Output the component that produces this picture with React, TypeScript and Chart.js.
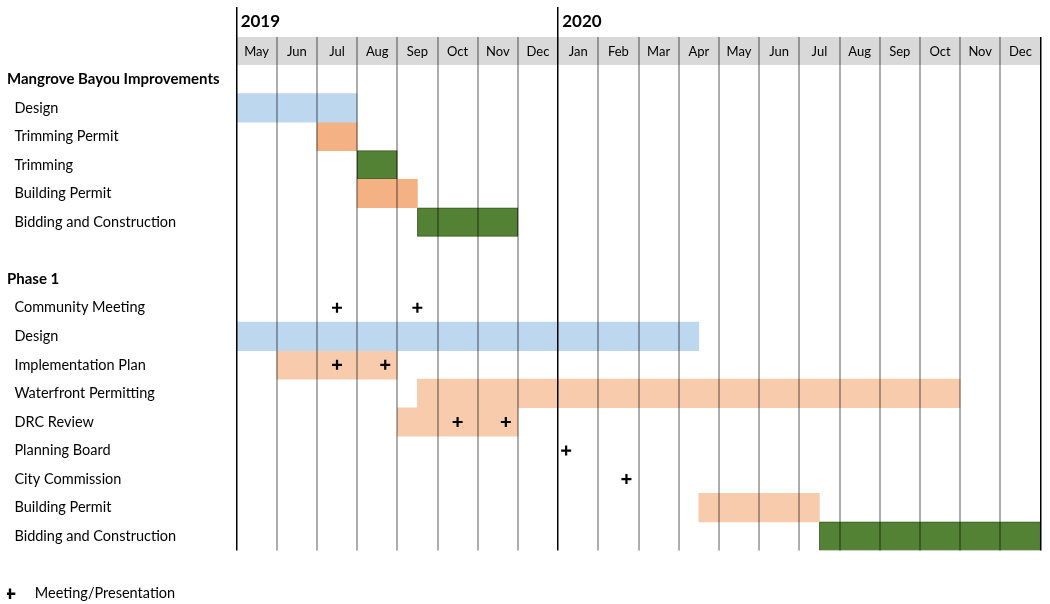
import React, { useEffect, useRef } from 'react';
import { Chart, registerables } from 'chart.js';

Chart.register(...registerables);

const FONT = "Lato, 'Open Sans', sans-serif";

const months = ['May', 'Jun', 'Jul', 'Aug', 'Sep', 'Oct', 'Nov', 'Dec', 'Jan', 'Feb', 'Mar', 'Apr', 'May', 'Jun', 'Jul', 'Aug', 'Sep', 'Oct', 'Nov', 'Dec'];
const years = ['2019', '2020'];
const yearStartMonth = [0, 8];

const taskLabels = [
  'Mangrove Bayou Improvements',
  'Design',
  'Trimming Permit',
  'Trimming',
  'Building Permit',
  'Bidding and Construction',
  '',
  'Phase 1',
  'Community Meeting',
  'Design',
  'Implementation Plan',
  'Waterfront Permitting',
  'DRC Review',
  'Planning Board',
  'City Commission',
  'Building Permit',
  'Bidding and Construction',
];
const headingRows = [0, 7];

// bars: row index, start month, end month (months counted from May 2019)
const barRows = [1, 2, 3, 4, 5, 9, 10, 11, 12, 15, 16];
const barStarts = [0, 2, 3, 3, 4.5, 0, 1, 4.5, 4, 11.5, 14.5];
const barEnds = [3, 3, 4, 4.5, 7, 11.5, 4, 18, 7, 14.5, 20];
const barKinds = ['design', 'permit', 'build', 'permit', 'build', 'design', 'permitLight', 'permitLight', 'permitLight', 'permitLight', 'build'];

// meetings / presentations
const meetingTasks = ['Community Meeting', 'Community Meeting', 'Implementation Plan', 'Implementation Plan', 'DRC Review', 'DRC Review', 'Planning Board', 'City Commission'];
const meetingMonths = [2.5, 4.5, 2.5, 3.7, 5.5, 6.7, 8.2, 9.7];
const legendText = 'Meeting/Presentation';

const barColors: Record<string, string> = {
  design: '#BDD7EE',
  permit: '#F4B183',
  permitLight: '#F8CBAD',
  build: '#548235',
};

export default function App() {
  const ref = useRef<HTMLCanvasElement>(null);

  useEffect(() => {
    if (!ref.current) return;
    const kinds = ['design', 'permit', 'permitLight', 'build'];
    const barDatasets = kinds.map((kind) => {
      const data: any[] = taskLabels.map(() => null);
      barRows.forEach((row, i) => {
        if (barKinds[i] === kind) data[row] = [barStarts[i], barEnds[i]];
      });
      return {
        type: 'bar' as const,
        label: kind,
        data,
        backgroundColor: barColors[kind],
        borderColor: kind === 'build' ? '#375623' : 'rgba(0,0,0,0)',
        borderWidth: kind === 'build' ? 1 : 0,
        borderSkipped: false,
        grouped: false,
        barPercentage: 1,
        categoryPercentage: 1,
        xAxisID: 'x',
        yAxisID: 'y',
        order: 2,
      };
    });

    const markerDataset = {
      type: 'scatter' as const,
      label: legendText,
      data: meetingTasks.map((t, i) => ({ x: meetingMonths[i], y: t })),
      pointStyle: 'cross',
      pointRadius: 5,
      pointHoverRadius: 5,
      borderWidth: 2.2,
      borderColor: '#000',
      backgroundColor: '#000',
      xAxisID: 'x',
      yAxisID: 'y',
      order: 0,
    };

    const datasets: any[] = [...barDatasets, markerDataset];
    const markerIndex = datasets.length - 1;

    const isBlack = (idx: any) => idx === undefined || idx === 0 || yearStartMonth.includes(idx);

    const chart = new Chart(ref.current, {
      type: 'bar',
      data: { labels: taskLabels, datasets },
      options: {
        animation: false,
        responsive: true,
        maintainAspectRatio: false,
        indexAxis: 'y',
        events: [],
        layout: { padding: { top: 7, left: 7, right: 9.5, bottom: -7 } },
        plugins: {
          tooltip: { enabled: false },
          legend: {
            display: true,
            position: 'bottom',
            align: 'start',
            labels: {
              usePointStyle: true,
              boxWidth: 6,
              boxHeight: 7.5,
              padding: 0,
              color: '#000',
              font: { family: FONT, size: 14.5 },
              generateLabels: (c: any) =>
                Chart.defaults.plugins.legend.labels
                  .generateLabels(c)
                  .filter((l: any) => l.datasetIndex === markerIndex)
                  .map((l: any) => ({ ...l, text: '\u2003 ' + l.text, lineWidth: 2.4, strokeStyle: '#000' })),
            },
          },
        },
        scales: {
          x: {
            type: 'linear',
            position: 'bottom',
            min: 0,
            max: months.length,
            ticks: { display: false },
            grid: { display: false },
            border: { display: false },
            afterFit: (s: any) => { s.height = 36; },
          },
          month: {
            type: 'category',
            axis: 'x',
            position: 'top',
            labels: months,
            offset: true,
            weight: 0,
            backgroundColor: '#D9D9D9',
            grid: {
              offset: true,
              drawOnChartArea: true,
              drawTicks: true,
              tickLength: 28,
              z: 1,
              color: (c: any) => (isBlack(c.index) ? '#000' : 'rgba(0,0,0,0.32)'),
              lineWidth: (c: any) => (isBlack(c.index) ? 1.5 : 2),
            },
            border: { display: false },
            ticks: {
              z: 2,
              autoSkip: false,
              maxRotation: 0,
              padding: -23,
              color: '#000',
              font: { family: FONT, size: 13 },
            },
            afterFit: (s: any) => { s.height = 28; },
          },
          year: {
            type: 'linear',
            axis: 'x',
            position: 'top',
            min: 0,
            max: months.length,
            weight: 1,
            afterBuildTicks: (s: any) => { s.ticks = yearStartMonth.map((v) => ({ value: v })); },
            grid: {
              drawOnChartArea: false,
              drawTicks: true,
              tickLength: 30,
              color: '#000',
              lineWidth: 1.5,
            },
            border: { display: false },
            ticks: {
              align: 'start',
              autoSkip: false,
              maxRotation: 0,
              padding: -25,
              color: '#000',
              font: { family: FONT, size: 17, weight: 'bold' },
              callback: (v: any) => ' ' + years[yearStartMonth.indexOf(Number(v))],
            },
            afterFit: (s: any) => { s.height = 30; },
          },
          y: {
            type: 'category',
            position: 'left',
            offset: true,
            grid: { display: false },
            border: { display: false },
            ticks: {
              crossAlign: 'far',
              autoSkip: false,
              color: '#000',
              font: (c: any) => ({
                family: FONT,
                size: headingRows.includes(c.index) ? 15 : 14.5,
                weight: headingRows.includes(c.index) ? 'bold' : 'normal',
              }),
              callback: (_v: any, i: number) => (headingRows.includes(i) ? '' : '  ') + taskLabels[i],
            },
            afterFit: (s: any) => { s.width = 229.5; },
          },
        },
      } as any,
    });

    return () => chart.destroy();
  }, []);

  return (
    <div style={{ position: 'fixed', left: 0, top: 0, width: 1050, height: 604, background: '#fff' }}>
      <canvas ref={ref} />
    </div>
  );
}
